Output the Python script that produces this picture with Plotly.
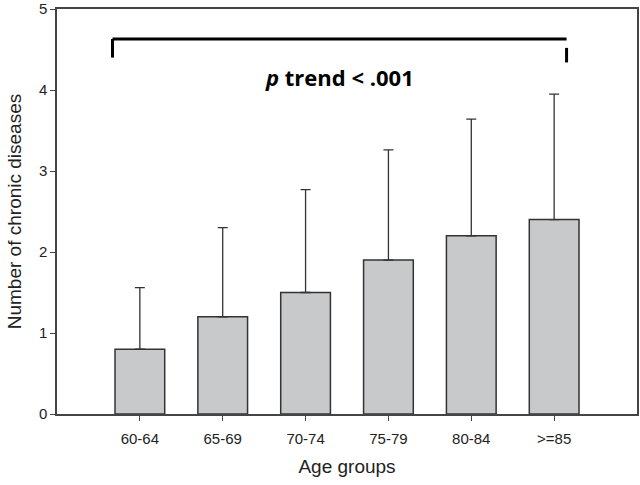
import plotly.graph_objects as go

# data
age_groups = ['60-64', '65-69', '70-74', '75-79', '80-84', '>=85']
mean_diseases = [0.8, 1.2, 1.5, 1.9, 2.2, 2.4]
sd_diseases = [0.76, 1.10, 1.27, 1.36, 1.44, 1.55]
y_ticks = [0, 1, 2, 3, 4, 5]

# trend bracket (data units: category index, count)
bracket_x = [-0.33, 5.15]
bracket_top = 4.63
bracket_left_end = 4.40
bracket_right_span = [4.52, 4.34]
trend_label = '<i>p</i> trend < .001'

fig = go.Figure()
fig.add_trace(go.Bar(
    x=list(range(len(age_groups))), y=mean_diseases, width=0.6,
    marker=dict(color='#c8c9cb', line=dict(color='#333333', width=1.5)),
    error_y=dict(type='data', array=sd_diseases, arrayminus=[0] * len(sd_diseases),
                 symmetric=False, color='#333333', thickness=1.3, width=5),
    showlegend=False
))

# bracket above bars
fig.add_shape(type='line', x0=bracket_x[0], x1=bracket_x[1], y0=bracket_top, y1=bracket_top,
              line=dict(color='black', width=3))
fig.add_shape(type='line', x0=bracket_x[0], x1=bracket_x[0], y0=bracket_top, y1=bracket_left_end,
              line=dict(color='black', width=3))
fig.add_shape(type='line', x0=bracket_x[1], x1=bracket_x[1], y0=bracket_right_span[0], y1=bracket_right_span[1],
              line=dict(color='black', width=3))
fig.add_annotation(x=2.41, y=4.16, text='<b>' + trend_label + '</b>', showarrow=False,
                   font=dict(family='Open Sans, Arial', size=22, color='black'))

fig.update_layout(
    width=640, height=485,
    plot_bgcolor='white', paper_bgcolor='white',
    margin=dict(l=57, r=3, t=9, b=71),
    font=dict(family='Liberation Sans, Arial', color='#222222'),
    bargap=0.4
)
fig.update_xaxes(
    range=[-1.0, 6.0], tickmode='array', tickvals=list(range(len(age_groups))), ticktext=age_groups,
    showline=True, mirror=True, linecolor='#444444', linewidth=1.5,
    ticks='outside', ticklen=5, tickcolor='#444444', showgrid=False, zeroline=False,
    tickfont=dict(size=15), automargin=False, ticklabelstandoff=5,
    title=dict(text='Age groups', font=dict(size=19), standoff=14)
)
fig.update_yaxes(
    range=[0, 5], tickmode='array', tickvals=y_ticks,
    showline=True, mirror=True, linecolor='#444444', linewidth=1.5,
    ticks='outside', ticklen=5, tickcolor='#444444', showgrid=False, zeroline=False,
    tickfont=dict(size=15), automargin=False, ticklabeloverflow='allow',
    title=dict(text='Number of chronic diseases', font=dict(size=19), standoff=12)
)

# page body has a default margin; drop it so the figure sits at the window corner
fig.write_html("out.html", config={'displayModeBar': False},
               post_script="document.body.style.margin='0';")
